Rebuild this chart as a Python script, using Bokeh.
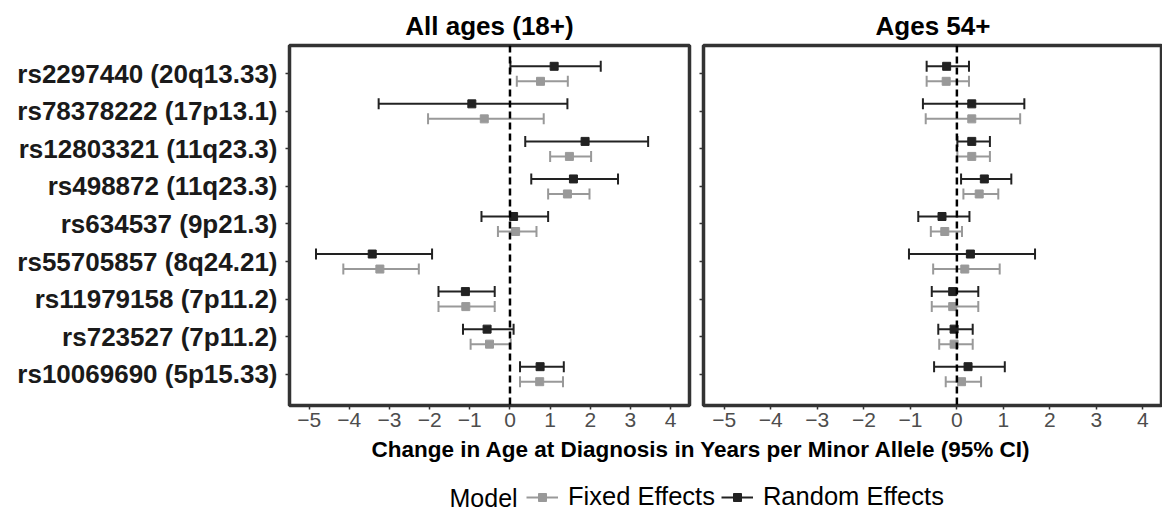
import numpy as np
import pandas as pd
from bokeh.plotting import figure
from bokeh.models import (ColumnDataSource, Whisker, Span, FixedTicker, Range1d,
                          Label, Legend, LegendItem, TeeHead)
from bokeh.layouts import column, row
from bokeh.embed import file_html
from bokeh.resources import INLINE

# ---------------- data ----------------
snps = ["rs2297440 (20q13.33)", "rs78378222 (17p13.1)", "rs12803321 (11q23.3)",
        "rs498872 (11q23.3)", "rs634537 (9p21.3)", "rs55705857 (8q24.21)",
        "rs11979158 (7p11.2)", "rs723527 (7p11.2)", "rs10069690 (5p15.33)"]

panel_titles = ["All ages (18+)", "Ages 54+"]
models = ["Fixed Effects", "Random Effects"]

# All ages (18+)
all_fixed_est = [0.76, -0.64, 1.48, 1.43, 0.14, -3.24, -1.10, -0.51, 0.74]
all_fixed_lo = [0.17, -2.04, 1.00, 0.95, -0.30, -4.15, -1.78, -0.98, 0.25]
all_fixed_hi = [1.44, 0.84, 2.02, 1.98, 0.66, -2.27, -0.38, 0.02, 1.32]
all_random_est = [1.10, -0.95, 1.87, 1.58, 0.09, -3.43, -1.11, -0.57, 0.75]
all_random_lo = [0.01, -3.27, 0.38, 0.53, -0.71, -4.83, -1.78, -1.17, 0.25]
all_random_hi = [2.26, 1.43, 3.44, 2.69, 0.95, -1.94, -0.38, 0.09, 1.34]

# Ages 54+
old_fixed_est = [-0.23, 0.32, 0.32, 0.48, -0.26, 0.17, -0.09, -0.06, 0.10]
old_fixed_lo = [-0.65, -0.67, 0.01, 0.14, -0.56, -0.51, -0.54, -0.38, -0.24]
old_fixed_hi = [0.26, 1.36, 0.71, 0.89, 0.11, 0.92, 0.46, 0.34, 0.52]
old_random_est = [-0.22, 0.32, 0.32, 0.59, -0.32, 0.29, -0.09, -0.06, 0.24]
old_random_lo = [-0.65, -0.73, 0.01, 0.09, -0.83, -1.03, -0.54, -0.40, -0.49]
old_random_hi = [0.26, 1.45, 0.71, 1.17, 0.27, 1.68, 0.46, 0.34, 1.03]

x_ticks = [-5, -4, -3, -2, -1, 0, 1, 2, 3, 4]
x_tick_labels = ["\u22125", "\u22124", "\u22123", "\u22122", "\u22121", "0", "1", "2", "3", "4"]

x_label = "Change in Age at Diagnosis in Years per Minor Allele (95% CI)"
legend_title = "Model"

# ---------------- styling ----------------
FONT = "Liberation Sans"
GRAY = "#999999"
DARK = "#222222"
BORDER = "#333333"

n = len(snps)
ypos = [n - i for i in range(n)]  # top category highest
dodge = 0.2


def make_src(est, lo, hi, offset):
    df = pd.DataFrame({"snp": snps, "est": est, "lo": lo, "hi": hi})
    df["y"] = [y + offset for y in ypos]
    return ColumnDataSource(df)


sources = {}


def make_panel(key, title, fixed, random, xr, width, mb_left, mb_right, show_labels):
    p = figure(width=width, height=437, x_range=Range1d(*xr), y_range=Range1d(0.166, 9.754),
               output_backend="svg", toolbar_location=None, title=title,
               min_border_left=mb_left, min_border_right=mb_right,
               min_border_top=45, min_border_bottom=32)
    p.background_fill_color = "white"
    p.border_fill_color = "white"
    p.outline_line_color = BORDER
    p.outline_line_width = 3.5
    p.xgrid.visible = False
    p.ygrid.visible = False

    p.title.align = "center"
    p.title.text_font = FONT
    p.title.text_font_size = "26px"
    p.title.text_font_style = "bold"
    p.title.text_color = "black"
    p.title.standoff = 10

    ax = p.xaxis[0]
    ax.ticker = FixedTicker(ticks=x_ticks)
    ax.major_label_overrides = {t: l for t, l in zip(x_ticks, x_tick_labels)}
    ax.axis_line_color = None
    ax.major_tick_in = 0
    ax.major_tick_out = 4
    ax.major_tick_line_color = BORDER
    ax.major_tick_line_width = 1.5
    ax.minor_tick_line_color = None
    ax.major_label_standoff = 3
    ax.major_label_text_font = FONT
    ax.major_label_text_font_size = "21px"
    ax.major_label_text_color = "#4d4d4d"

    ay = p.yaxis[0]
    ay.ticker = FixedTicker(ticks=ypos)
    if show_labels:
        ay.major_label_overrides = {y: s for y, s in zip(ypos, snps)}
        ay.major_label_standoff = 8
    else:
        ay.major_label_overrides = {y: "" for y in ypos}
        ay.major_label_standoff = 0
    ay.axis_line_color = None
    ay.major_tick_in = 0
    ay.major_tick_out = 4
    ay.major_tick_line_color = BORDER
    ay.major_tick_line_width = 1.5
    ay.minor_tick_line_color = None
    ay.major_label_text_font = FONT
    ay.major_label_text_font_size = "26px"
    ay.major_label_text_font_style = "bold"
    ay.major_label_text_color = "#1a1a1a"

    p.add_layout(Span(location=0, dimension="height", line_color="black",
                      line_width=2.5, line_dash="7 4"))

    for (est, lo, hi), off, col, m in ((fixed, -dodge, GRAY, models[0]),
                                        (random, dodge, DARK, models[1])):
        src = make_src(est, lo, hi, off)
        sources[(key, m)] = src
        w = Whisker(source=src, base="y", lower="lo", upper="hi", dimension="width",
                    line_color=col, line_width=2,
                    lower_head=TeeHead(size=11, line_color=col, line_width=2),
                    upper_head=TeeHead(size=11, line_color=col, line_width=2))
        p.add_layout(w)
        p.scatter("est", "y", source=src, marker="square", size=8,
                  fill_color=col, line_color=col)
    return p


left = make_panel("all", panel_titles[0],
                  (all_fixed_est, all_fixed_lo, all_fixed_hi),
                  (all_random_est, all_random_lo, all_random_hi),
                  (-5.49, 4.47), 695, 289, 6, True)
right = make_panel("old", panel_titles[1],
                   (old_fixed_est, old_fixed_lo, old_fixed_hi),
                   (old_random_est, old_random_lo, old_random_hi),
                   (-5.447, 4.42), 467, 8, 0, False)

# ---------------- footer: axis title + legend ----------------
FW, FH = 1162, 82
# data ranges chosen so the legend's renderers draw nothing in this strip;
# only their legend keys are shown
foot = figure(width=FW, height=FH, x_range=Range1d(100, 101), y_range=Range1d(100, 101),
              output_backend="svg", toolbar_location=None,
              x_axis_location=None, y_axis_location=None,
              min_border=0, outline_line_color=None)
foot.xgrid.visible = False
foot.ygrid.visible = False
foot.background_fill_color = "white"
foot.border_fill_color = "white"

foot.add_layout(Label(x=701, y=FH - 12, x_units="screen", y_units="screen", text=x_label,
                      text_align="center", text_baseline="middle", text_font=FONT,
                      text_font_size="22.5px", text_font_style="bold", text_color="black"))
foot.add_layout(Label(x=449, y=22, x_units="screen", y_units="screen", text=legend_title,
                      text_align="left", text_baseline="middle", text_font=FONT,
                      text_font_size="25px", text_color="black"))

items = []
for name, col in zip(models, (GRAY, DARK)):
    src = sources[("all", name)]
    lr = foot.segment(x0="lo", x1="hi", y0="y", y1="y", source=src, line_color=col, line_width=2)
    sr = foot.scatter("est", "y", source=src, marker="square", size=8,
                      fill_color=col, line_color=col)
    items.append(LegendItem(label=name, renderers=[lr, sr]))

leg = Legend(items=items, location=(526, 8), orientation="horizontal",
             glyph_width=32, glyph_height=20, label_standoff=10, spacing=6,
             padding=0, margin=0, border_line_color=None, background_fill_alpha=0,
             label_text_font=FONT, label_text_font_size="25.5px", label_text_color="black")
foot.add_layout(leg)

layout = column(row(left, right, spacing=0), foot, spacing=0)

open("out.html", "w").write(file_html(layout, INLINE))
